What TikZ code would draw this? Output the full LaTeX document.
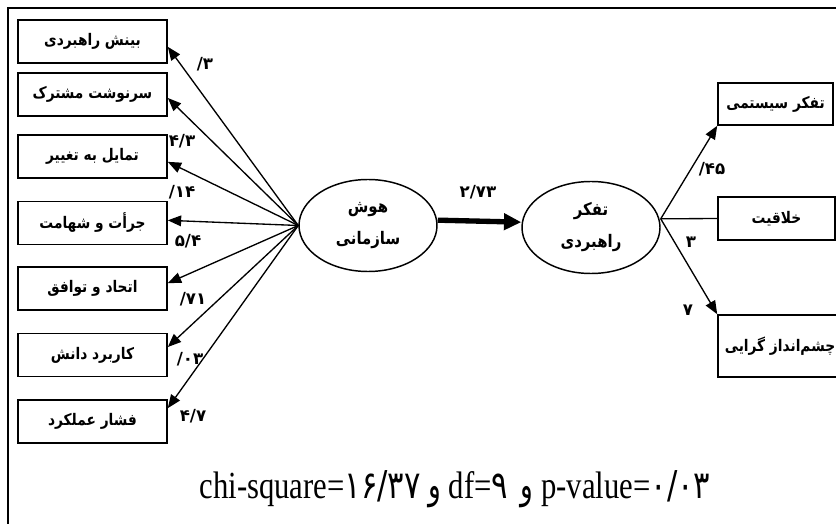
\documentclass[tikz,border=0pt]{standalone}
\usepackage{fontspec}
\setmainfont{Liberation Serif}
\newfontfamily\fa[Script=Arabic, FakeStretch=0.86]{DejaVu Sans}
\newfontfamily\fanum{DejaVu Sans}
\TeXXeTstate=1
\usetikzlibrary{shapes.geometric, arrows.meta}
\tikzstyle{factor} = [rectangle, draw, line width=1.2pt, minimum width=111.75pt, minimum height=32.25pt, inner sep=0pt, text centered, font=\fa\bfseries\fontsize{12}{14}\selectfont]
\tikzstyle{latent} = [ellipse, draw, line width=1.1pt, minimum width=103.5pt, minimum height=69pt, inner sep=0pt, align=center, font=\fa\bfseries\fontsize{13}{24}\selectfont]
\tikzstyle{coef} = [inner sep=0pt, font=\fanum\bfseries\fontsize{12.5}{14}\selectfont]
\tikzstyle{arrow} = [line width=1pt, -{Triangle[length=10pt,width=8pt]}]

\begin{document}
\begin{tikzpicture}[x=0.75pt, y=-0.75pt]
    \useasboundingbox (0,0) rectangle (836,524);
    \draw [line width=2pt] (8,8) rectangle (845,535);

    % left factors
    \node [factor] at (92.5,41.5) (b1) {\beginR بینش راهبردی\endR};
    \node [factor] at (92.5,94.5) (b2) {\beginR سرنوشت مشترک\endR};
    \node [factor] at (92.5,156.5) (b3) {\beginR تمایل به تغییر\endR};
    \node [factor] at (92.5,223) (b4) {\beginR جرأت و شهامت\endR};
    \node [factor] at (92.5,288.5) (b5) {\beginR اتحاد و توافق\endR};
    \node [factor] at (92.5,355) (b6) {\beginR کاربرد دانش\endR};
    \node [factor] at (92.5,421.5) (b7) {\beginR فشار عملکرد\endR};

    % latent variables
    \node [latent] at (368,225.5) (hoosh) {\beginR هوش\endR\\\beginR سازمانی\endR};
    \node [latent] at (591,227.5) (tafakor) {\beginR تفکر\endR\\\beginR راهبردی\endR};

    % right factors
    \node [factor, minimum width=86.25pt, minimum height=31.5pt] at (775.5,104) (s1) {\beginR تفکر سیستمی\endR};
    \node [factor, minimum width=87.75pt] at (776.5,218.5) (s2) {\beginR خلاقیت\endR};
    \node [factor, minimum width=93pt, minimum height=46.5pt] at (780,346) (s3) {\beginR چشم‌انداز گرایی\endR};

    \draw [arrow] (hoosh.west) -- ([yshift=-4pt]b1.east);
    \draw [arrow] (hoosh.west) -- ([yshift=-2.6pt]b2.east);
    \draw [arrow] (hoosh.west) -- ([yshift=-4pt]b3.east);
    \draw [arrow] (hoosh.west) -- ([yshift=2pt]b4.east);
    \draw [arrow] (hoosh.west) -- ([yshift=4pt]b5.east);
    \draw [arrow] (hoosh.west) -- ([yshift=6pt]b6.east);
    \draw [arrow] (hoosh.west) -- ([yshift=10pt]b7.east);
    \draw [line width=4pt, -{Triangle[length=13pt,width=12pt]}] ([yshift=4pt]hoosh.east) -- ([yshift=4pt]tafakor.west);
    \draw [arrow] ([yshift=6.5pt]tafakor.east) -- (s1.south west);
    \draw [line width=1pt] ([yshift=6.5pt]tafakor.east) -- (s2.west);
    \draw [arrow] ([yshift=6.5pt]tafakor.east) -- (s3.north west);

    % coefficients
    \node [coef] at (205,64) (c1) {/۳};
    \node [coef] at (182,141) (c2) {۴/۳};
    \node [coef] at (182,192) (c3) {/۱۴};
    \node [coef] at (188,241) (c4) {۵/۴};
    \node [coef] at (193,299) (c5) {/۷۱};
    \node [coef] at (190,359) (c6) {/۰۳};
    \node [coef] at (193,416) (c7) {۴/۷};
    \node [coef] at (478,192) (c8) {۲/۷۳};
    \node [coef] at (712,169) (c9) {/۴۵};
    \node [coef] at (691,242) (c10) {۳};
    \node [coef] at (688,310) (c11) {۷};

    \node [anchor=base, inner sep=0pt, font=\fontsize{23}{26}\selectfont] at (455,498) (fit) {\scalebox{1}[1.25]{chi-square={\fanum ۱۶/۳۷}\ {\fa و}\ df={\fanum ۹}\ \,{\fa و}\ p-value={\fanum ۰/۰۳}}};
\end{tikzpicture}
\end{document}
